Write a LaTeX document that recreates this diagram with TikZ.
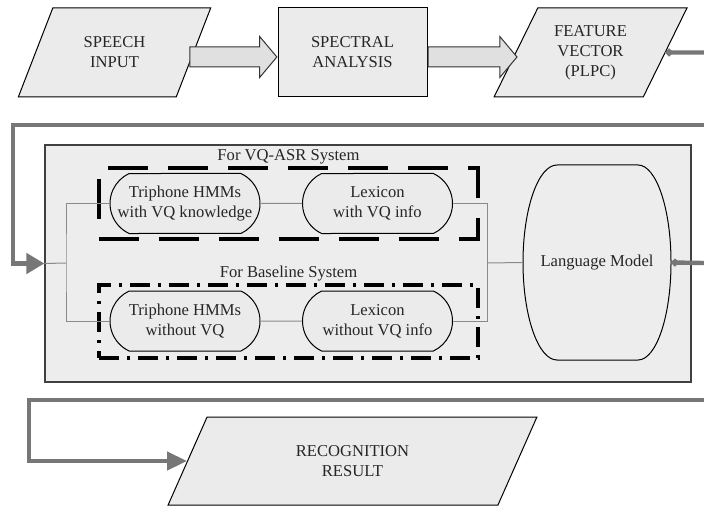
\documentclass[tikz,border=0pt]{standalone}
\usepackage{fontspec}
\setmainfont{Liberation Serif}
\usetikzlibrary{arrows.meta,shapes.geometric,shapes.misc,shapes.arrows,positioning}

\definecolor{shapegray}{HTML}{EBEBEB}
\definecolor{boxgray}{HTML}{EDEDED}
\definecolor{flowgray}{HTML}{777777}
\definecolor{thingray}{HTML}{8A8A8A}
\definecolor{arrowgray}{HTML}{E0E0E0}

\tikzset{
  txt/.style={font=\fontsize{8.3}{10}\selectfont, align=center, text=black!85},
  iobox/.style={txt, trapezium, trapezium stretches=true, draw=black, line width=0.5pt, fill=shapegray, inner sep=0pt},
  procbox/.style={txt, rectangle, draw=black, line width=0.5pt, fill=shapegray, inner sep=0pt},
  pill/.style={txt, rounded rectangle, rounded rectangle arc length=130, draw=black, line width=0.5pt, fill=shapegray, minimum width=75pt, minimum height=30pt, inner sep=0pt},
  blockarr/.style={single arrow, draw=black!80, line width=0.5pt, fill=arrowgray, inner xsep=0pt, inner ysep=4.75pt, single arrow head extend=5.25pt, single arrow tip angle=100},
  flow/.style={draw=flowgray, line width=2.2pt},
  link/.style={draw=thingray, line width=0.5pt},
  vqgroup/.style={draw=black, line width=2pt, dash pattern=on 20pt off 10pt, minimum width=189.5pt, minimum height=35.5pt},
  basegroup/.style={draw=black, line width=2pt, dash pattern=on 10pt off 4pt on 1.5pt off 4pt, minimum width=189.5pt, minimum height=36.5pt},
  grplabel/.style={txt, inner sep=1pt},
}

\begin{document}
\begin{tikzpicture}[x=0.5pt, y=-0.5pt]
\useasboundingbox (0,0) rectangle (704,507);

%%%%%
%% front end
%%%%%
\node[iobox, minimum width=96.5pt, minimum height=44.5pt, trapezium left angle=61, trapezium right angle=119] (speech) at (114.5,52.5) {SPEECH\\INPUT};
\node[procbox, minimum width=74.5pt, minimum height=44.5pt] (spectral) at (352.5,52.5) {SPECTRAL\\ANALYSIS};
\node[iobox, minimum width=96.5pt, minimum height=44.5pt, trapezium left angle=61, trapezium right angle=119] (feat) at (590.5,52.5) {FEATURE\\VECTOR\\(PLPC)};

\node[blockarr, minimum height=43.5pt, anchor=tip] (arr1) at ([yshift=-2.25pt]spectral.west) {};
\node[blockarr, minimum height=44.5pt, anchor=tail] (arr2) at ([yshift=-2.25pt]spectral.east) {};

\coordinate (cutA) at (704,52.5);
\coordinate (cutB) at (704,125);
\coordinate (cutC) at (704,263);
\coordinate (cutD) at (704,400);

\draw[flow, {Circle[length=3.5pt]}-] (feat.east) -- (cutA);

%%%%%
%% decoder
%%%%%
\node[draw=black!75, line width=0.6pt, fill=boxgray, minimum width=323pt, minimum height=118.5pt] (decoder) at (368,263.5) {};

\node[vqgroup] (vqbox) at (288.5,203.5) {};
\node[grplabel, above=0pt of vqbox] (vqlabel) {For VQ-ASR System};
\node[basegroup] (basebox) at (288.5,321.5) {};
\node[grplabel, above=0pt of basebox] (baselabel) {For Baseline System};

\node[pill] (tri1) at (185,203.5) {Triphone HMMs\\with VQ knowledge};
\node[pill] (lex1) at (377.5,203.5) {Lexicon\\with VQ info};
\node[pill] (tri2) at (185,321) {Triphone HMMs\\without VQ};
\node[pill] (lex2) at (377.5,321) {Lexicon\\without VQ info};

\node[txt, minimum width=74pt, minimum height=97.5pt, inner sep=0pt] (lm) at (597,262.5) {Language Model};
\draw[black, line width=0.5pt] (557,165) -- (638,165)
  arc[start angle=90, end angle=0, x radius=16.5pt, y radius=48.75pt]
  arc[start angle=0, end angle=-90, x radius=16.5pt, y radius=48.75pt]
  -- (557,360)
  arc[start angle=270, end angle=180, x radius=17pt, y radius=48.75pt]
  arc[start angle=180, end angle=90, x radius=17pt, y radius=48.75pt];

\coordinate (split) at (66,263);
\coordinate (join) at (487,263);

\draw[flow, -{Triangle[length=9pt,width=10pt]}] (cutB) -- (13,125) |- (decoder.west);
\draw[link] (decoder.west) -- (split);
\draw[link] (tri1.west) -| (split) |- (tri2.west);
\draw[link] (tri1) -- (lex1);
\draw[link] (tri2) -- (lex2);
\draw[link] (lex1.east) -| (join) |- (lex2.east);
\draw[link] (join) -- (lm.west);
\draw[flow, {Circle[length=3.5pt]}-] (lm.east) -- (cutC);

%%%%%
%% result
%%%%%
\node[iobox, minimum width=184.5pt, minimum height=44pt, trapezium left angle=64, trapezium right angle=116] (rec) at (352.5,461) {RECOGNITION\\RESULT};

\draw[flow, -{Triangle[length=10pt,width=9pt]}] (cutD) -- (29,400) |- (rec.west);

\end{tikzpicture}
\end{document}
